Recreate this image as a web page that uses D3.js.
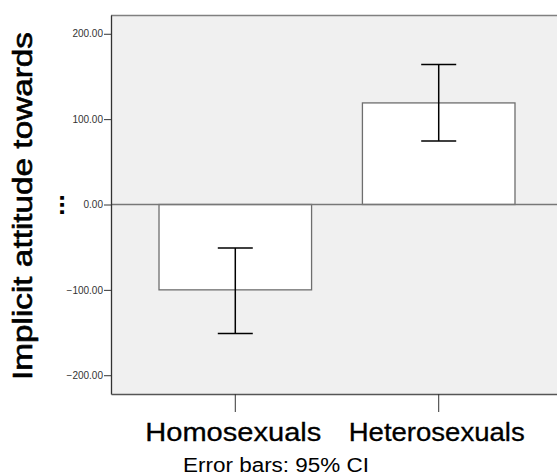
<!DOCTYPE html>
<html>
<head>
<meta charset="utf-8">
<script src="https://cdn.jsdelivr.net/npm/d3@7"></script>
<style>
  body { margin: 0; background: #fff; }
  svg { display: block; font-family: "Liberation Sans", Arial, sans-serif; }
</style>
</head>
<body>
<div id="chart"></div>
<script>
// values
var groups = ['Homosexuals', 'Heterosexuals'];
var means = [-100, 119];
var ciLow = [-151, 74.5];
var ciHigh = [-51, 164];
var yTicks = [-200, -100, 0, 100, 200];

var W = 557, H = 475;
var plot = {left: 111, top: 15, right: 563, bottom: 394};

var svg = d3.select('#chart').append('svg')
  .attr('width', W)
  .attr('height', H);

var y = d3.scaleLinear()
  .domain([-222, 222])
  .range([plot.bottom, plot.top]);

var x = d3.scaleBand()
  .domain(groups)
  .range([plot.left, plot.right])
  .paddingInner(0.25)
  .paddingOuter(0.236);

// PLOT BACKGROUND
svg.append('rect')
  .attr('x', plot.left)
  .attr('y', plot.top)
  .attr('width', plot.right - plot.left)
  .attr('height', plot.bottom - plot.top)
  .attr('fill', '#f0f0f0');

// top border
svg.append('line')
  .attr('x1', plot.left).attr('x2', plot.right)
  .attr('y1', plot.top + 0.5).attr('y2', plot.top + 0.5)
  .attr('stroke', '#808080').attr('stroke-width', 1.5);

// BARS
svg.selectAll('rect.bar')
  .data(groups)
  .enter().append('rect')
    .attr('class', 'bar')
    .attr('x', function(d) { return x(d); })
    .attr('width', x.bandwidth())
    .attr('y', function(d, i) { return y(Math.max(0, means[i])); })
    .attr('height', function(d, i) { return Math.abs(y(means[i]) - y(0)); })
    .attr('fill', '#fff')
    .attr('stroke', '#6e6e6e')
    .attr('stroke-width', 1.3);

// zero reference line
svg.append('line')
  .attr('x1', plot.left).attr('x2', plot.right)
  .attr('y1', y(0)).attr('y2', y(0))
  .attr('stroke', '#777').attr('stroke-width', 1.3);

// ERROR BARS
var capHalf = 17.5;
var eb = svg.selectAll('g.err')
  .data(groups)
  .enter().append('g')
    .attr('class', 'err')
    .attr('stroke', '#000')
    .attr('stroke-width', 1.5);
eb.append('line')
  .attr('x1', function(d) { return x(d) + x.bandwidth() / 2; })
  .attr('x2', function(d) { return x(d) + x.bandwidth() / 2; })
  .attr('y1', function(d, i) { return y(ciLow[i]); })
  .attr('y2', function(d, i) { return y(ciHigh[i]); });
eb.append('line')
  .attr('x1', function(d) { return x(d) + x.bandwidth() / 2 - capHalf; })
  .attr('x2', function(d) { return x(d) + x.bandwidth() / 2 + capHalf; })
  .attr('y1', function(d, i) { return y(ciLow[i]); })
  .attr('y2', function(d, i) { return y(ciLow[i]); });
eb.append('line')
  .attr('x1', function(d) { return x(d) + x.bandwidth() / 2 - capHalf; })
  .attr('x2', function(d) { return x(d) + x.bandwidth() / 2 + capHalf; })
  .attr('y1', function(d, i) { return y(ciHigh[i]); })
  .attr('y2', function(d, i) { return y(ciHigh[i]); });

// Y AXIS
var yAxis = svg.append('g')
  .attr('transform', 'translate(' + plot.left + ',0)')
  .call(d3.axisLeft(y).tickValues(yTicks).tickSize(7).tickPadding(1)
    .tickFormat(d3.format('.2f')).tickSizeOuter(0));
yAxis.select('.domain').attr('stroke', '#333').attr('stroke-width', 1.3);
yAxis.selectAll('.tick line').attr('stroke', '#333');
yAxis.selectAll('.tick text')
  .attr('fill', '#333')
  .style('font-size', '10px')
  .style('font-family', '"Liberation Sans", Arial, sans-serif');

// X AXIS
var xAxis = svg.append('g')
  .attr('transform', 'translate(0,' + plot.bottom + ')')
  .call(d3.axisBottom(x).tickSize(18).tickSizeOuter(0).tickFormat(''));
xAxis.select('.domain').attr('stroke', '#555').attr('stroke-width', 1.3);
xAxis.selectAll('.tick line').attr('stroke', '#333');

svg.selectAll('text.xlab')
  .data(groups)
  .enter().append('text')
    .attr('class', 'xlab')
    .attr('x', function(d) { return x(d) + x.bandwidth() / 2 - 2; })
    .attr('y', 441)
    .attr('text-anchor', 'middle')
    .attr('textLength', 176)
    .attr('lengthAdjust', 'spacingAndGlyphs')
    .style('font-size', '25px')
    .attr('fill', '#000')
    .attr('stroke', '#000')
    .attr('stroke-width', 0.3)
    .text(function(d) { return d; });

// Y TITLE
svg.append('text')
  .attr('transform', 'translate(32,206) rotate(-90)')
  .attr('text-anchor', 'middle')
  .attr('textLength', 348)
  .attr('lengthAdjust', 'spacingAndGlyphs')
  .style('font-size', '27px')
  .attr('fill', '#000')
  .attr('stroke', '#000')
  .attr('stroke-width', 0.6)
  .text('Implicit attitude towards');
svg.append('text')
  .attr('transform', 'translate(64,205) rotate(-90)')
  .attr('text-anchor', 'middle')
  .style('font-size', '26px')
  .style('font-weight', 'bold')
  .attr('fill', '#000')
  .text('...');

// FOOTNOTE
svg.append('text')
  .attr('x', 183)
  .attr('y', 472)
  .attr('textLength', 186)
  .attr('lengthAdjust', 'spacingAndGlyphs')
  .style('font-size', '19.5px')
  .attr('fill', '#000')
  .text('Error bars: 95% CI');
</script>
</body>
</html>
